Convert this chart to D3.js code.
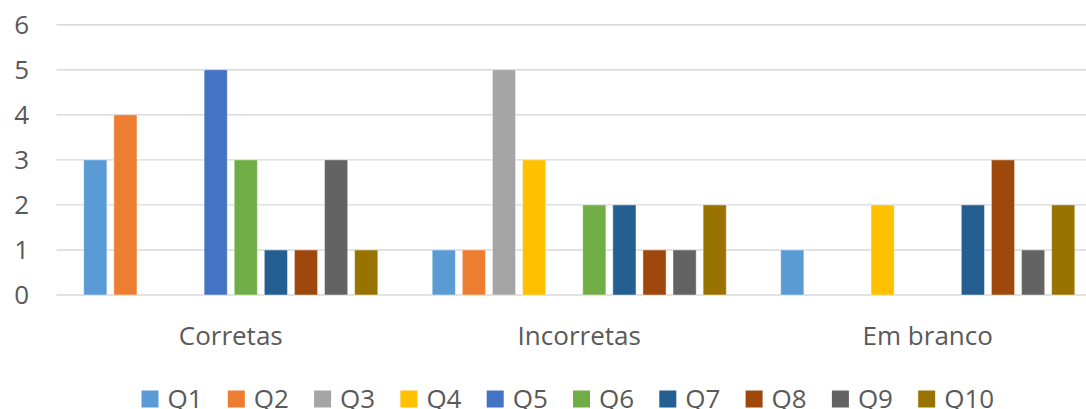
<!DOCTYPE html>
<html>
<head>
<meta charset="utf-8">
<script src="https://cdn.jsdelivr.net/npm/d3@7/dist/d3.min.js"></script>
<style>
  html, body { margin: 0; padding: 0; background: #fff; overflow: hidden; }
  svg { display: block; font-family: "Open Sans", sans-serif; }
</style>
</head>
<body>
<svg id="chart" width="1086" height="409"></svg>
<script>
// Answer categories on the x axis
const categories = ["Corretas", "Incorretas", "Em branco"];
// Question series
const series = ["Q1", "Q2", "Q3", "Q4", "Q5", "Q6", "Q7", "Q8", "Q9", "Q10"];
// Counts per question, in category order
const q1  = [3, 1, 1];
const q2  = [4, 1, 0];
const q3  = [0, 5, 0];
const q4  = [0, 3, 2];
const q5  = [5, 0, 0];
const q6  = [3, 2, 0];
const q7  = [1, 2, 2];
const q8  = [1, 1, 3];
const q9  = [3, 1, 1];
const q10 = [1, 2, 2];
const yTicks = [0, 1, 2, 3, 4, 5, 6];
const colors = ["#5B9BD5", "#ED7D31", "#A5A5A5", "#FFC000", "#4472C4",
                "#70AD47", "#255E91", "#9E480E", "#636363", "#997300"];

const values = [q1, q2, q3, q4, q5, q6, q7, q8, q9, q10];
const rows = [];
series.forEach((s, i) => {
  categories.forEach((c, j) => rows.push({ series: s, category: c, value: values[i][j] }));
});

const svg = d3.select("#chart");
const textColor = "#595959";

const x0 = d3.scaleBand().domain(categories).range([56.5, 1102]).paddingInner(0).paddingOuter(0);
const x1 = d3.scaleBand().domain(series).range([27.2, x0.bandwidth() - 27.2]).paddingInner(0.23).paddingOuter(0);
const y = d3.scaleLinear().domain([0, 6]).range([295, 24.7]);
const color = d3.scaleOrdinal().domain(series).range(colors);

// Horizontal gridlines
svg.append("g")
  .selectAll("line")
  .data(yTicks)
  .join("line")
  .attr("x1", 56.5)
  .attr("x2", 1102)
  .attr("y1", d => y(d))
  .attr("y2", d => y(d))
  .attr("stroke", "#d9d9d9")
  .attr("stroke-width", 1.4);

// Y tick labels
svg.append("g")
  .selectAll("text")
  .data(yTicks)
  .join("text")
  .attr("x", 29)
  .attr("y", d => y(d))
  .attr("dy", "0.36em")
  .attr("text-anchor", "end")
  .attr("font-size", 26)
  .attr("fill", textColor)
  .text(d => d);

// Bars
svg.append("g")
  .selectAll("rect")
  .data(rows.filter(d => d.value > 0))
  .join("rect")
  .attr("x", d => x0(d.category) + x1(d.series))
  .attr("y", d => y(d.value))
  .attr("width", x1.bandwidth())
  .attr("height", d => y(0) - y(d.value))
  .attr("fill", d => color(d.series))
  .attr("stroke", "#ffffff")
  .attr("stroke-opacity", 0.45)
  .attr("stroke-width", 1);

// Category labels
svg.append("g")
  .selectAll("text")
  .data(categories)
  .join("text")
  .attr("x", d => x0(d) + x0.bandwidth() / 2)
  .attr("y", 345)
  .attr("text-anchor", "middle")
  .attr("font-size", 26)
  .attr("fill", textColor)
  .text(d => d);

// Legend
const legendX = d3.scaleBand().domain(series).range([141.5, 141.5 + 86.3 * series.length]);
const legend = svg.append("g")
  .selectAll("g")
  .data(series)
  .join("g")
  .attr("transform", d => `translate(${legendX(d)},0)`);
legend.append("rect")
  .attr("x", 0)
  .attr("y", 390.5)
  .attr("width", 17)
  .attr("height", 17)
  .attr("fill", d => color(d));
legend.append("text")
  .attr("x", 26)
  .attr("y", 407.5)
  .attr("font-size", 26)
  .attr("fill", textColor)
  .text(d => d);
</script>
</body>
</html>
